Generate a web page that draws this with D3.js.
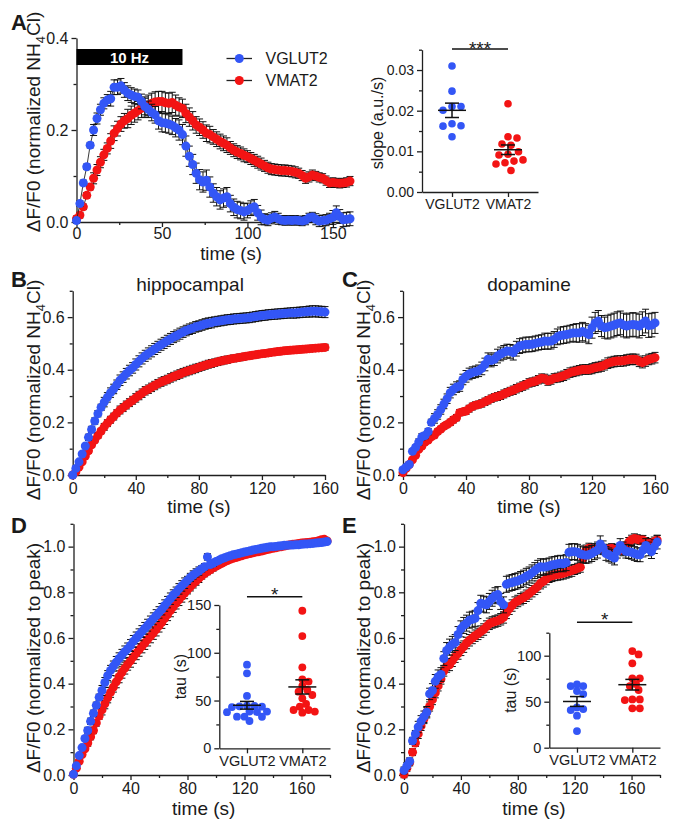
<!DOCTYPE html>
<html><head><meta charset="utf-8">
<script src="https://cdn.jsdelivr.net/npm/d3@7"></script>
<style>
body{margin:0;background:#fff}
svg{display:block}
text{font-family:"Liberation Sans",Arial,Helvetica,sans-serif;fill:#1a1a1a}
</style>
</head><body>
<svg id="chart" width="679" height="827"></svg>
<script>
// ---------------- DATA ----------------
const groups = ["VGLUT2", "VMAT2"];
const STEP = 2; // seconds between samples
// Panel A: 10 Hz stimulation response (normalized NH4Cl)
const aVGLUT2 = [0.003,0.04,0.085,0.12,0.167,0.2,0.225,0.244,0.258,0.265,0.268,0.293,0.293,0.296,0.287,0.28,0.276,0.273,0.271,0.262,
 0.251,0.245,0.238,0.233,0.22,0.216,0.215,0.213,0.21,0.205,0.2,0.19,0.165,0.143,0.125,0.106,0.092,0.087,0.091,0.076,
 0.063,0.055,0.048,0.052,0.055,0.04,0.032,0.027,0.025,0.022,0.025,0.03,0.033,0.02,0.01,0.006,0.004,0.008,0.011,0.007,
 0.004,0.003,0.004,0.003,0.004,0.003,0.002,0.004,0.009,0.011,0.006,0.002,0.003,0.004,0.007,0.01,0.02,0.012,0.005,0.006,
 0.007];
const aVMAT2 = [0.007,0.015,0.033,0.058,0.076,0.095,0.113,0.13,0.146,0.16,0.176,0.193,0.203,0.213,0.22,0.225,0.232,0.237,0.242,0.247,
 0.25,0.254,0.258,0.261,0.262,0.262,0.259,0.258,0.26,0.254,0.25,0.247,0.236,0.228,0.22,0.211,0.206,0.2,0.193,0.19,
 0.185,0.18,0.175,0.171,0.167,0.161,0.156,0.152,0.149,0.145,0.142,0.138,0.134,0.13,0.126,0.122,0.118,0.115,0.114,0.113,
 0.112,0.112,0.111,0.11,0.108,0.106,0.101,0.095,0.098,0.102,0.1,0.097,0.095,0.09,0.085,0.086,0.085,0.084,0.085,0.086,
 0.089];
// SEM, one value per 10 s window
const aVGLUT2sem = [0.006,0.012,0.016,0.016,0.018,0.02,0.022,0.022,0.02,0.018,0.016,0.012,0.01,0.01,0.012,0.015,0.015];
const aVMAT2sem  = [0.006,0.012,0.016,0.02,0.022,0.022,0.02,0.018,0.016,0.014,0.013,0.012,0.012,0.011,0.01,0.01,0.01];
const stimLabel = "10 Hz";
const stimWindow = [0, 62];
// Panel A inset: slope (a.u./s)
const slopeVGLUT2 = [0.031,0.0248,0.021,0.0201,0.021,0.0168,0.0162,0.0163,0.0136];
const slopeVMAT2  = [0.0217,0.0136,0.0133,0.0118,0.0115,0.0093,0.0099,0.0091,0.0079,0.0076,0.0072,0.0069,0.0053];

// Panel B: hippocampal
const bVGLUT2 = [0,0.025,0.05,0.08,0.11,0.143,0.173,0.205,0.233,0.257,0.277,0.295,0.313,0.327,0.343,0.36,0.372,0.385,0.397,0.407,
 0.42,0.432,0.443,0.453,0.462,0.47,0.479,0.487,0.495,0.502,0.51,0.517,0.524,0.53,0.537,0.543,0.549,0.554,0.558,0.563,
 0.566,0.57,0.574,0.577,0.579,0.582,0.584,0.586,0.588,0.59,0.591,0.593,0.594,0.595,0.596,0.597,0.598,0.6,0.602,0.604,
 0.606,0.607,0.609,0.61,0.611,0.612,0.613,0.614,0.615,0.616,0.616,0.617,0.618,0.619,0.62,0.621,0.622,0.622,0.621,0.62,
 0.619];
const bVMAT2 = [0,0.012,0.03,0.05,0.072,0.092,0.115,0.133,0.15,0.167,0.183,0.197,0.21,0.222,0.235,0.247,0.256,0.266,0.275,0.284,
 0.293,0.302,0.311,0.32,0.326,0.333,0.34,0.347,0.353,0.358,0.363,0.369,0.374,0.379,0.384,0.389,0.393,0.397,0.401,0.405,
 0.409,0.413,0.417,0.421,0.424,0.427,0.43,0.433,0.436,0.438,0.441,0.443,0.445,0.447,0.449,0.451,0.453,0.455,0.457,0.459,
 0.461,0.462,0.464,0.466,0.467,0.469,0.47,0.472,0.473,0.474,0.475,0.476,0.477,0.478,0.479,0.48,0.481,0.482,0.483,0.484,
 0.485];
const bVGLUT2sem = [0.006,0.012,0.018,0.02,0.021,0.021,0.021,0.02,0.02,0.019,0.019,0.019,0.019,0.019,0.02,0.021,0.021];
const bVMAT2sem  = [0.005,0.01,0.013,0.015,0.016,0.016,0.016,0.016,0.015,0.014,0.013,0.012,0.012,0.012,0.012,0.012,0.012];

// Panel C: dopamine
const cVGLUT2 = [0.02,0.03,0.04,0.09,0.105,0.125,0.145,0.15,0.165,0.2,0.215,0.23,0.249,0.27,0.29,0.313,0.325,0.334,0.338,0.363,
 0.375,0.384,0.389,0.392,0.396,0.405,0.42,0.44,0.435,0.44,0.452,0.46,0.466,0.471,0.47,0.465,0.48,0.49,0.493,0.496,
 0.496,0.497,0.5,0.503,0.505,0.509,0.508,0.509,0.515,0.525,0.53,0.532,0.534,0.537,0.54,0.54,0.54,0.545,0.54,0.534,
 0.56,0.578,0.585,0.566,0.56,0.562,0.566,0.57,0.575,0.578,0.57,0.566,0.57,0.572,0.57,0.566,0.575,0.585,0.568,0.57,
 0.578];
const cVMAT2 = [0.009,0.025,0.04,0.058,0.075,0.098,0.11,0.125,0.133,0.145,0.152,0.165,0.175,0.185,0.192,0.2,0.21,0.218,0.237,0.24,
 0.243,0.252,0.26,0.265,0.268,0.272,0.278,0.284,0.29,0.295,0.298,0.302,0.308,0.313,0.318,0.322,0.328,0.333,0.338,0.343,
 0.35,0.353,0.356,0.362,0.368,0.366,0.358,0.362,0.368,0.37,0.373,0.377,0.383,0.389,0.392,0.395,0.398,0.401,0.401,0.401,
 0.404,0.408,0.41,0.413,0.418,0.425,0.428,0.431,0.433,0.433,0.434,0.437,0.439,0.44,0.439,0.432,0.427,0.433,0.439,0.442,
 0.446];
const cVGLUT2sem = [0.008,0.012,0.018,0.02,0.022,0.024,0.026,0.028,0.028,0.03,0.032,0.035,0.04,0.045,0.045,0.045,0.04];
const cVMAT2sem  = [0.005,0.008,0.01,0.012,0.013,0.014,0.015,0.016,0.016,0.017,0.018,0.018,0.019,0.02,0.02,0.02,0.02];

// Panel D: hippocampal, normalized to peak
const dVGLUT2 = [0.003,0.04,0.085,0.12,0.16,0.195,0.235,0.27,0.305,0.34,
 0.37,0.405,0.435,0.458,0.477,0.494,0.51,0.525,0.54,0.553,
 0.567,0.585,0.6,0.614,0.628,0.642,0.656,0.67,0.684,0.698,
 0.712,0.726,0.742,0.757,0.772,0.788,0.8,0.815,0.828,0.84,
 0.852,0.865,0.876,0.885,0.893,0.903,0.912,0.955,0.922,0.927,
 0.935,0.94,0.947,0.951,0.956,0.96,0.964,0.967,0.97,0.973,
 0.976,0.979,0.982,0.985,0.988,0.99,0.993,0.995,0.997,0.999,
 1.0,1.001,1.003,1.004,1.006,1.006,1.007,1.007,1.008,1.008,
 1.01,1.011,1.012,1.013,1.014,1.016,1.017,1.018,1.02,1.022];
const dVMAT2 = [0.003,0.03,0.06,0.09,0.115,0.14,0.168,0.195,0.228,0.258,
 0.285,0.312,0.338,0.362,0.385,0.408,0.43,0.45,0.468,0.485,
 0.5,0.517,0.533,0.548,0.563,0.578,0.593,0.607,0.622,0.637,
 0.653,0.669,0.686,0.703,0.72,0.737,0.752,0.767,0.782,0.797,
 0.811,0.824,0.837,0.849,0.861,0.872,0.882,0.891,0.899,0.907,
 0.914,0.92,0.927,0.933,0.939,0.945,0.949,0.952,0.956,0.96,
 0.964,0.967,0.97,0.973,0.976,0.978,0.981,0.984,0.987,0.99,
 0.993,0.995,0.998,1.0,1.003,1.006,1.008,1.01,1.012,1.014,
 1.016,1.017,1.018,1.019,1.021,1.023,1.026,1.03,1.032,1.025];
const dVGLUT2sem = [0.006,0.014,0.022,0.025,0.026,0.026,0.025,0.023,0.018,0.014,0.01,0.008,0.007,0.006,0.005,0.005,0.005,0.004,0.004];
const dVMAT2sem  = [0.006,0.014,0.022,0.026,0.028,0.028,0.027,0.025,0.018,0.014,0.01,0.008,0.007,0.006,0.005,0.005,0.005,0.004,0.004];
// Panel D inset: tau (s)
const tauHippoVGLUT2 = [87.5,78.5,54.8,44.6,44.3,43.9,43.6,43.2,38.4,38.4,38.0,37.8,33.1,33.1,33.0,28.6];
const tauHippoVMAT2  = [144,117.5,84.8,72.2,69.8,65.2,61,59.3,55.8,52.3,46.4,43.6,40.1,40.1,38.4,37.3];

// Panel E: dopamine, normalized to peak
const eVGLUT2 = [0.02,0.04,0.06,0.15,0.18,0.21,0.235,0.255,0.275,0.355,
 0.37,0.41,0.43,0.44,0.51,0.545,0.56,0.572,0.58,0.615,
 0.64,0.655,0.665,0.678,0.682,0.686,0.72,0.752,0.748,0.745,
 0.76,0.774,0.785,0.79,0.76,0.745,0.835,0.84,0.843,0.847,
 0.85,0.856,0.862,0.87,0.876,0.885,0.895,0.905,0.912,0.91,
 0.912,0.915,0.92,0.922,0.925,0.927,0.925,0.93,0.975,0.978,
 0.978,0.975,0.968,0.964,0.962,0.964,0.97,0.978,0.985,1.012,
 0.995,0.97,0.964,0.958,0.95,0.98,1.005,0.99,0.98,0.978,
 0.975,0.97,0.965,0.964,0.985,1.005,0.99,0.978,1.0,1.02];
const eVMAT2 = [0.003,0.03,0.055,0.1,0.14,0.18,0.215,0.245,0.275,0.3,
 0.33,0.36,0.39,0.42,0.455,0.475,0.482,0.5,0.518,0.532,
 0.548,0.562,0.578,0.59,0.6,0.61,0.618,0.628,0.637,0.65,
 0.662,0.668,0.672,0.676,0.682,0.69,0.71,0.728,0.742,0.755,
 0.762,0.77,0.776,0.785,0.795,0.805,0.815,0.825,0.84,0.848,
 0.858,0.868,0.872,0.876,0.878,0.88,0.883,0.887,0.891,0.895,
 0.9,0.905,0.91,0.95,0.985,0.993,0.99,0.985,0.99,0.995,
 0.99,0.985,0.99,0.993,0.99,0.987,0.985,0.985,1.0,1.02,
 1.03,1.036,1.032,1.029,1.029,1.02,1.015,1.015,1.022,1.029];
const eVGLUT2sem = [0.015,0.025,0.03,0.035,0.035,0.035,0.035,0.035,0.035,0.035,0.035,0.035,0.035,0.035,0.03,0.03,0.03,0.03,0.03];
const eVMAT2sem  = [0.015,0.02,0.022,0.025,0.025,0.025,0.025,0.025,0.025,0.025,0.025,0.025,0.022,0.022,0.02,0.02,0.02,0.02,0.02];
// Panel E inset: tau (s)
const tauDaVGLUT2 = [68.8,67,67,61.6,58.3,43.8,42,40.9,34.8,18.1];
const tauDaVMAT2  = [105,101.4,91.7,75.4,75.4,69.2,67,62.7,52.5,52.5,51.8,42.8,42.8];

// ---------------- STYLE ----------------
const BLUE = "#3356f6", RED = "#f31414", INK = "#1f1f1f";
const svg = d3.select("#chart");

function toPoints(vals, sem){
  return vals.map((v,i)=>({t:i*STEP, v, e: sem[Math.min(sem.length-1, Math.floor(i*STEP/10))]}));
}
function styleAxis(sel, fs){
  sel.attr("font-family", null).attr("font-size", null);
  sel.select(".domain").attr("stroke", INK).attr("stroke-width", 1.3);
  sel.selectAll(".tick line").attr("stroke", INK).attr("stroke-width", 1.3);
  sel.selectAll(".tick text").attr("fill", INK).style("font-size", fs + "px");
}
function axes(g, x, y, o){
  const fs = o.fs || 16;
  const y0 = y.range()[0], x0 = x.range()[0];
  const bx = g.append("g").attr("transform", `translate(0,${y0})`);
  let ax = d3.axisBottom(x).tickSize(5).tickSizeOuter(0).tickPadding(o.xPad != null ? o.xPad : 2.5);
  if (o.xTicks) ax.tickValues(o.xTicks).tickFormat(o.xFmt || d3.format("d"));
  bx.call(ax); styleAxis(bx, fs);
  if (o.xMinor){
    const m = g.append("g").attr("transform", `translate(0,${y0})`)
      .call(d3.axisBottom(x).tickValues(o.xMinor).tickSize(3).tickFormat(""));
    m.select(".domain").remove(); styleAxis(m, fs);
  }
  const ly = g.append("g").attr("transform", `translate(${x0},0)`)
    .call(d3.axisLeft(y).tickValues(o.yTicks).tickSize(5).tickSizeOuter(0).tickPadding(3).tickFormat(o.yFmt));
  styleAxis(ly, fs);
  if (o.yMinor){
    const m = g.append("g").attr("transform", `translate(${x0},0)`)
      .call(d3.axisLeft(y).tickValues(o.yMinor).tickSize(3).tickFormat(""));
    m.select(".domain").remove(); styleAxis(m, fs);
  }
}
function yTitleNH4(g, cx, cy){
  const t = g.append("text").attr("transform", `translate(${cx},${cy}) rotate(-90)`)
    .attr("text-anchor", "middle").attr("dy", "0.35em").style("font-size", "19px");
  t.append("tspan").text("\u0394F/F0 (normalized NH");
  t.append("tspan").text("4").style("font-size", "13px").attr("dy", "5");
  t.append("tspan").text("Cl)").attr("dy", "-5");
}
function yTitle(g, cx, cy, label, fs){
  g.append("text").attr("transform", `translate(${cx},${cy}) rotate(-90)`)
    .attr("text-anchor", "middle").attr("dy", "0.35em").style("font-size", fs + "px").text(label);
}
function xTitle(g, cx, by, label, fs){
  g.append("text").attr("x", cx).attr("y", by).attr("text-anchor", "middle").style("font-size", (fs || 19) + "px").text(label);
}
function panelLetter(x, y, s){
  svg.append("text").attr("x", x).attr("y", y).style("font-size", "22px").style("font-weight", "bold").text(s);
}
function traces(g, x, y, list, r, connect){
  list.forEach(s => {
    const pts = s.pts;
    if (connect){
      g.append("path").datum(pts).attr("fill", "none").attr("stroke", "#222").attr("stroke-width", 0.9)
        .attr("d", d3.line().x(d => x(d.t)).y(d => y(d.v)));
    }
    const eb = g.append("g").attr("stroke", "#111").attr("stroke-width", 1);
    eb.selectAll("line.v").data(pts).join("line").attr("class", "v")
      .attr("x1", d => x(d.t)).attr("x2", d => x(d.t))
      .attr("y1", d => y(d.v - d.e)).attr("y2", d => y(d.v + d.e));
    eb.selectAll("line.t").data(pts).join("line").attr("class", "t")
      .attr("x1", d => x(d.t) - 3.5).attr("x2", d => x(d.t) + 3.5)
      .attr("y1", d => y(d.v + d.e)).attr("y2", d => y(d.v + d.e));
    eb.selectAll("line.b").data(pts).join("line").attr("class", "b")
      .attr("x1", d => x(d.t) - 3.5).attr("x2", d => x(d.t) + 3.5)
      .attr("y1", d => y(d.v - d.e)).attr("y2", d => y(d.v - d.e));
    g.append("g").selectAll("circle").data(pts).join("circle")
      .attr("cx", d => x(d.t)).attr("cy", d => y(d.v)).attr("r", r).attr("fill", s.color);
  });
}
function swarm(vals, cx, y, minD, step){
  const placed = [];
  const sorted = vals.map((v,i)=>({v,i})).sort((a,b)=>b.v-a.v);
  sorted.forEach(d => {
    const py = y(d.v);
    let best = null;
    for (let k = 0; k < 80 && best === null; k++){
      const offs = k === 0 ? [0] : [k*step, -k*step];
      for (const o of offs){
        const ok = placed.every(p => Math.hypot(p.x - (cx+o), p.y - py) >= minD);
        if (ok){ best = cx + o; break; }
      }
    }
    placed.push({x: best, y: py, v: d.v});
  });
  return placed;
}
function scatterInset(g, x, y, sets, r, minD, step){
  sets.forEach(s => {
    const cx = x(s.group);
    const pts = swarm(s.vals, cx, y, minD, step);
    g.append("g").selectAll("circle").data(pts).join("circle")
      .attr("cx", d => d.x).attr("cy", d => d.y).attr("r", r).attr("fill", s.color);
    const m = d3.mean(s.vals), sem = d3.deviation(s.vals) / Math.sqrt(s.vals.length);
    const k = g.append("g").attr("stroke", "#111").attr("stroke-width", 1.5);
    k.append("line").attr("x1", cx - 14).attr("x2", cx + 14).attr("y1", y(m)).attr("y2", y(m));
    k.append("line").attr("x1", cx).attr("x2", cx).attr("y1", y(m - sem)).attr("y2", y(m + sem));
    k.append("line").attr("x1", cx - 7).attr("x2", cx + 7).attr("y1", y(m + sem)).attr("y2", y(m + sem));
    k.append("line").attr("x1", cx - 7).attr("x2", cx + 7).attr("y1", y(m - sem)).attr("y2", y(m - sem));
  });
}
function sigBar(g, x, yy, label, by){
  g.append("line").attr("x1", x(groups[0])).attr("x2", x(groups[1])).attr("y1", yy).attr("y2", yy)
    .attr("stroke", "#111").attr("stroke-width", 1.5);
  g.append("text").attr("x", (x(groups[0]) + x(groups[1]))/2).attr("y", by)
    .attr("text-anchor", "middle").style("font-size", "19px").text(label);
}

// ---------------- PANEL A ----------------
{
  const g = svg.append("g");
  const x = d3.scaleLinear().domain([0,160]).range([76.5,350]);
  const y = d3.scaleLinear().domain([0,0.4]).range([222,38]);
  axes(g, x, y, {xPad:1, xTicks:[0,50,100,150], xMinor:[25,75,125], yTicks:[0,0.2,0.4], yMinor:[0.1,0.3], yFmt:d3.format(".1f")});
  traces(g, x, y, [
    {pts: toPoints(aVMAT2, aVMAT2sem), color: RED},
    {pts: toPoints(aVGLUT2, aVGLUT2sem), color: BLUE}
  ], 4.5, true);
  // stimulation bar
  g.append("rect").attr("x", x(stimWindow[0])).attr("width", x(stimWindow[1]) - x(stimWindow[0]))
    .attr("y", 49).attr("height", 16).attr("fill", "#000");
  g.append("text").attr("x", (x(stimWindow[0]) + x(stimWindow[1]))/2).attr("y", 62.5)
    .attr("text-anchor", "middle").style("font-size", "15px").style("font-weight", "bold")
    .style("fill", "#fff").text(stimLabel);
  // legend
  const lg = g.append("g");
  [[groups[0], BLUE, 58.5], [groups[1], RED, 80.5]].forEach(([name, col, ly]) => {
    lg.append("line").attr("x1", 226.5).attr("x2", 252).attr("y1", ly).attr("y2", ly).attr("stroke", "#222").attr("stroke-width", 1.3);
    lg.append("circle").attr("cx", 239.3).attr("cy", ly).attr("r", 4.5).attr("fill", col);
    lg.append("text").attr("x", 265.5).attr("y", ly).attr("dy", "0.36em").style("font-size", "16px").text(name);
  });
  yTitleNH4(g, 33, 122);
  xTitle(g, 231, 259.5, "time (s)", 18.5);
  panelLetter(11, 30, "A");

  // inset
  const gi = svg.append("g");
  const xi = d3.scalePoint().domain(groups).range([422,538]).padding(0.536);
  const yi = d3.scaleLinear().domain([0,0.035]).range([192,49.7]);
  axes(gi, xi, yi, {fs:14, yTicks:[0,0.01,0.02,0.03], yMinor:[0.005,0.015,0.025,0.035], yFmt:d3.format(".2f")});
  scatterInset(gi, xi, yi, [{group:groups[0], vals:slopeVGLUT2, color:BLUE},{group:groups[1], vals:slopeVMAT2, color:RED}], 3.8, 9, 1.5);
  sigBar(gi, xi, 49, "***", 55);
  yTitle(gi, 377, 123, "slope (a.u./s)", 16);
}

// ---------------- PANEL B & C ----------------
function panelBC(x0, x1, vg, vgSem, vm, vmSem, title, titleX, yTitleX, letter, letterX){
  const g = svg.append("g");
  const x = d3.scaleLinear().domain([0,160]).range([x0,x1]);
  const y = d3.scaleLinear().domain([0,0.7]).range([475,290.8]);
  axes(g, x, y, {xTicks:[0,40,80,120,160], xMinor:[20,60,100,140], yTicks:[0,0.2,0.4,0.6], yMinor:[0.1,0.3,0.5,0.7], yFmt:d3.format(".1f")});
  traces(g, x, y, [
    {pts: toPoints(vm, vmSem), color: RED},
    {pts: toPoints(vg, vgSem), color: BLUE}
  ], 4.5, false);
  g.append("text").attr("x", titleX).attr("y", 291).attr("text-anchor", "middle").style("font-size", "19px").text(title);
  yTitleNH4(g, yTitleX, 390);
  xTitle(g, (x0 + x1)/2, 513, "time (s)");
  panelLetter(letterX, 287, letter);
}
panelBC(72.7, 325, bVGLUT2, bVGLUT2sem, bVMAT2, bVMAT2sem, "hippocampal", 190, 33, "B", 11);
panelBC(403, 655, cVGLUT2, cVGLUT2sem, cVMAT2, cVMAT2sem, "dopamine", 529, 363, "C", 342);

// ---------------- PANEL D & E ----------------
function panelDE(x0, x1, vg, vgSem, vm, vmSem, yTitleX, letter, letterX, inset){
  const g = svg.append("g");
  const x = d3.scaleLinear().domain([0,180]).range([x0,x1]);
  const y = d3.scaleLinear().domain([0,1.1]).range([775,523.8]);
  axes(g, x, y, {xTicks:[0,40,80,120,160], xMinor:[20,60,100,140,180], yTicks:[0,0.2,0.4,0.6,0.8,1.0], yMinor:[0.1,0.3,0.5,0.7,0.9,1.1], yFmt:d3.format(".1f")});
  traces(g, x, y, [
    {pts: toPoints(vm, vmSem), color: RED},
    {pts: toPoints(vg, vgSem), color: BLUE}
  ], 4.5, false);
  yTitle(g, yTitleX, 658, "\u0394F/F0 (normalized to peak)", 19);
  xTitle(g, (x0 + x1)/2 + 2, 815, "time (s)");
  panelLetter(letterX, 533, letter);

  const gi = svg.append("g");
  const xi = d3.scalePoint().domain(groups).range([inset.ax, inset.ax + 110.7]).padding(0.5);
  const yi = d3.scaleLinear().domain([0, inset.max]).range([inset.y0, inset.yTop]);
  axes(gi, xi, yi, {fs:14.5, yTicks:inset.ticks, yMinor:inset.minor, yFmt:d3.format("d")});
  scatterInset(gi, xi, yi, [{group:groups[0], vals:inset.vg, color:BLUE},{group:groups[1], vals:inset.vm, color:RED}], 3.9, 6.4, 1.25);
  sigBar(gi, xi, inset.sigY, "*", inset.sigY + 4);
  yTitle(gi, inset.ax - 39, (inset.y0 + inset.yTop)/2, "tau (s)", 16);
}
panelDE(73.5, 330, dVGLUT2, dVGLUT2sem, dVMAT2, dVMAT2sem, 33, "D", 11,
  {ax:219.3, y0:748.3, yTop:605, max:150, ticks:[0,50,100,150], minor:[25,75,125], vg:tauHippoVGLUT2, vm:tauHippoVMAT2, sigY:596.7});
panelDE(404, 660, eVGLUT2, eVGLUT2sem, eVMAT2, eVMAT2sem, 363, "E", 342,
  {ax:549.3, y0:747.7, yTop:632.7, max:125, ticks:[0,50,100], minor:[25,75,125], vg:tauDaVGLUT2, vm:tauDaVMAT2, sigY:622.3});
</script>
</body></html>
